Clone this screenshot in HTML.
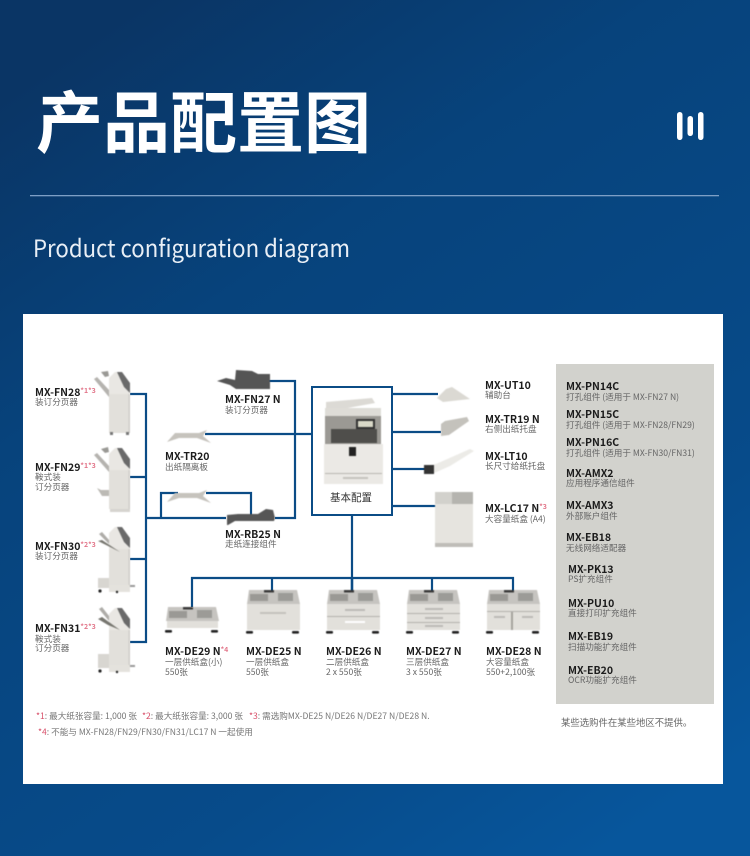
<!DOCTYPE html>
<html><head><meta charset="utf-8">
<style>
html,body{margin:0;padding:0;width:750px;height:856px;overflow:hidden;background:#0a4478}
svg{display:block}
text{font-family:"Liberation Sans","Noto Sans CJK SC",sans-serif}
.m{font-family:"Noto Sans CJK SC","Liberation Sans",sans-serif;font-weight:700;font-size:10.5px;fill:#1c1c1c}
.s{font-family:"Noto Sans CJK SC","Liberation Sans",sans-serif;font-size:8.6px;fill:#666}
.r{font-family:"Noto Sans CJK SC","Liberation Sans",sans-serif;font-size:7px;fill:#e2768a}
.f{font-family:"Noto Sans CJK SC","Liberation Sans",sans-serif;font-size:8.6px;fill:#777}
.l{fill:none;stroke:#0b4c86;stroke-width:2.2}
.soft{filter:blur(.5px)}
</style></head><body>
<svg width="750" height="856" viewBox="0 0 750 856" xmlns="http://www.w3.org/2000/svg">
<defs>
<linearGradient id="bg" x1="0.2" y1="0" x2="0.8" y2="1">
<stop offset="0" stop-color="#0a3565"/><stop offset="0.3" stop-color="#07437c"/><stop offset="0.75" stop-color="#074b8a"/><stop offset="1" stop-color="#07569c"/>
</linearGradient>
<g id="tower">
<polygon points="0,6 6,0 11,0 21,14 21,61 0,61" fill="#e9e7e3"/>
<polygon points="8,0 13,0 21,11 21,21 15,15" fill="#6a6a6a"/>
<rect x="0" y="22" width="21" height="39" fill="#e2e0db"/>
<rect x="19.5" y="22" width="1.5" height="39" fill="#cfcdc8"/>
</g>
<g id="deck">
<polygon points="2,0 50,0 53,14 0,14" fill="#c6c4c0"/>
<rect x="3" y="4" width="18" height="7" fill="#9a9995"/>
<rect x="31" y="3" width="15" height="8" fill="#9c9b97"/>
<rect x="17" y="0" width="10" height="2.5" fill="#3b3b3b"/>
</g>
<g id="feet"><rect x="0" y="0" width="7" height="2.6" rx="1" fill="#222"/><rect x="46" y="0" width="7" height="2.6" rx="1" fill="#222"/></g>
<polygon id="tray" points="0,12 8,3 32,3 40,0 36,6 44,13 30,8 12,8" fill="#c6c3bd"/>
</defs>
<rect width="750" height="856" fill="url(#bg)"/>

<text x="36" y="147" style="font-family:'Noto Sans CJK SC',sans-serif;font-weight:700;font-size:67px" fill="#fff">产品配置图</text>
<rect x="677" y="112" width="5.5" height="28" rx="2.7" fill="#fff"/>
<rect x="687.500" y="116" width="5.500" height="20" rx="2.700" fill="#fff"/>
<rect x="698" y="112" width="5.500" height="28" rx="2.700" fill="#fff"/>
<rect x="30" y="195" width="689" height="1.3" fill="#7d9fc6"/>
<text x="33" y="257" textLength="317" lengthAdjust="spacingAndGlyphs" style="font-family:'Noto Sans CJK SC',sans-serif;font-weight:400;font-size:24px" fill="#e9eff6">Product configuration diagram</text>

<rect x="23" y="314" width="700" height="470" fill="#fff"/>
<rect x="556" y="364" width="158" height="340" fill="#d2d2cd"/>

<!-- connectors -->
<path class="l" d="M130 394H146V642H130M130 477H146M130 559H146M146 518H226M275 518H295V381H268M205 434H312M161 518V493H178M206 493H251V516"/>
<rect x="312" y="387" width="80" height="128" fill="#fff" stroke="#0b4c86" stroke-width="2"/>
<path class="l" d="M392 394H438M392 432H441M392 469H425M392 506H436M352 515V578M192 607V578H513V592M272 578V592M432 578V592"/>
<path d="M352 578V592" fill="none" stroke="#0b4c86" stroke-width="2.6"/>

<g class="soft">
<!-- finishers -->
<use href="#tower" x="109" y="372"/>
<rect x="110" y="432" width="3" height="3" fill="#777"/><rect x="126" y="432" width="3" height="3" fill="#777"/>
<polygon points="94,379 97,377 109,390 109,397" fill="#b5b3af"/><polygon points="101,372 108,371 109,376 105,377" fill="#9a9995"/>
<use href="#tower" x="109" y="448"/>
<rect x="110" y="509" width="20" height="3" fill="#d6d4cf"/>
<polygon points="94,455 97,453 109,466 109,472" fill="#b5b3af"/><polygon points="101,449 108,447 109,452 105,453" fill="#9a9995"/>
<polygon points="97,488 101,490 109,490 109,496 102,496" fill="#bcbab5"/>
<use href="#tower" x="109" y="527"/>
<rect x="109" y="585" width="21" height="7" fill="#e4e2dd"/>
<polygon points="99,534 102,532 109,540 109,544" fill="#aeaca8"/><polygon points="98,541 102,540 120,552 108,546" fill="#77766f"/>
<rect x="98" y="578" width="11" height="10" fill="#d8d6d1"/><circle cx="100" cy="591" r="1.6" fill="#222"/><circle cx="117" cy="592" r="1.2" fill="#222"/><rect x="130" y="585" width="5" height="2" fill="#999"/>
<use href="#tower" x="109" y="608"/>
<rect x="109" y="665" width="21" height="7" fill="#e4e2dd"/>
<polygon points="99,609 102,607 109,616 109,621" fill="#aeaca8"/><polygon points="98,619 102,617 120,630 108,625" fill="#77766f"/>
<rect x="98" y="654" width="11" height="14" fill="#d8d6d1"/><circle cx="100" cy="671" r="1.6" fill="#222"/><circle cx="117" cy="672" r="1.2" fill="#222"/><rect x="130" y="665" width="5" height="2" fill="#999"/>

<!-- FN27 -->
<polygon points="217,381 226,378 235,380 236,370 252,371 258,374 270,374 270,389 236,389 230,385" fill="#555"/>
<!-- TR20 tray + lower tray -->
<use href="#tray" x="167" y="430"/>
<use href="#tray" x="167" y="490"/>
<!-- RB25 -->
<polygon points="227,525 227,515 238,514 258,514 266,509 273,510 275,518 274,521 235,521 228,525" fill="#565656"/>

<!-- base copier -->
<polygon points="326,402 372,398 375,403 342,409 326,408" fill="#dcdad5"/>
<rect x="325" y="408" width="56" height="8" fill="#dedcd7"/>
<rect x="325" y="416" width="56" height="28" fill="#9b9994"/>
<rect x="331" y="429" width="46" height="14" fill="#4f4e4b"/>
<rect x="356" y="419" width="19" height="10" fill="#333"/><rect x="358" y="421" width="15" height="6" fill="#d9d8c8"/>
<rect x="324" y="444" width="59" height="40" fill="#ebe9e5"/>
<rect x="349" y="447" width="7" height="9" fill="#222"/>
<rect x="325" y="473" width="57" height="1" fill="#b9b7b2"/><rect x="343" y="477" width="25" height="2" fill="#c5c3be"/>

<!-- right options -->
<polygon points="437,398 446,389 452,387 470,399 443,402" fill="#dbd9d3"/>
<polygon points="441,424 445,421 467,417 469,421 449,435 441,436" fill="#c4c2bc"/>
<polygon points="424,466 436,464 470,449 474,451 450,466 432,474 424,473" fill="#ecebe7"/>
<rect x="424" y="465" width="10" height="9" fill="#333"/>
<rect x="435" y="492" width="38" height="55" fill="#e6e4df"/>
<rect x="452" y="492" width="21" height="12" fill="#b5b4af"/><rect x="435" y="492" width="17" height="12" fill="#d2d1cc"/>
<rect x="435" y="543" width="38" height="4" fill="#bfbdb8"/>

<!-- paper decks -->
<use href="#deck" x="166" y="607"/><rect x="167" y="621" width="51" height="7" fill="#e2e0db"/><use href="#feet" x="165" y="630"/>
<use href="#deck" x="247" y="590"/><rect x="247" y="604" width="53" height="26" fill="#e2e0db"/><rect x="260" y="612" width="26" height="2" fill="#c4c2bd"/><use href="#feet" x="246" y="631"/>
<use href="#deck" x="327" y="590"/><rect x="327" y="604" width="53" height="26" fill="#e2e0db"/><rect x="327" y="616" width="53" height="1" fill="#b3b1ac"/><rect x="345" y="609" width="20" height="2" fill="#bdbbb6"/><rect x="345" y="621" width="20" height="2" fill="#fff"/><use href="#feet" x="326" y="631"/>
<use href="#deck" x="407" y="590"/><rect x="407" y="604" width="53" height="26" fill="#e2e0db"/><rect x="407" y="613" width="53" height="1" fill="#b3b1ac"/><rect x="407" y="622" width="53" height="1" fill="#b3b1ac"/><rect x="425" y="608" width="18" height="2" fill="#bdbbb6"/><rect x="425" y="617" width="18" height="2" fill="#bdbbb6"/><rect x="425" y="625" width="18" height="2" fill="#bdbbb6"/><use href="#feet" x="406" y="631"/>
<use href="#deck" x="487" y="590"/><rect x="487" y="604" width="53" height="26" fill="#e2e0db"/><rect x="487" y="611" width="53" height="1" fill="#b3b1ac"/><rect x="511" y="612" width="2" height="18" fill="#a5a39e"/><rect x="494" y="616" width="11" height="2" fill="#bdbbb6"/><rect x="522" y="616" width="11" height="2" fill="#bdbbb6"/><use href="#feet" x="486" y="631"/>
</g>

<text x="351" y="501" text-anchor="middle" style="font-family:'Noto Sans CJK SC',sans-serif;font-size:10.5px" fill="#333">基本配置</text>

<!-- labels left -->
<text class="m" x="35" y="396">MX-FN28<tspan class="r" dy="-3">*1*3</tspan></text><text class="s" x="35" y="405">装订分页器</text>
<text class="m" x="35" y="471">MX-FN29<tspan class="r" dy="-3">*1*3</tspan></text><text class="s" x="35" y="480">鞍式装</text><text class="s" x="35" y="490">订分页器</text>
<text class="m" x="35" y="550">MX-FN30<tspan class="r" dy="-3">*2*3</tspan></text><text class="s" x="35" y="559">装订分页器</text>
<text class="m" x="35" y="632">MX-FN31<tspan class="r" dy="-3">*2*3</tspan></text><text class="s" x="35" y="642">鞍式装</text><text class="s" x="35" y="651">订分页器</text>

<text class="m" x="225" y="403">MX-FN27 N</text><text class="s" x="225" y="413">装订分页器</text>
<text class="m" x="165" y="460">MX-TR20</text><text class="s" x="165" y="470">出纸隔离板</text>
<text class="m" x="225" y="538">MX-RB25 N</text><text class="s" x="225" y="547">走纸连接组件</text>

<!-- labels mid right -->
<text class="m" x="485" y="389">MX-UT10</text><text class="s" x="485" y="398">辅助台</text>
<text class="m" x="485" y="423">MX-TR19 N</text><text class="s" x="485" y="432">右侧出纸托盘</text>
<text class="m" x="485" y="460">MX-LT10</text><text class="s" x="485" y="469">长尺寸给纸托盘</text>
<text class="m" x="485" y="512">MX-LC17 N<tspan class="r" dy="-3">*3</tspan></text><text class="s" x="485" y="522">大容量纸盒 (A4)</text>

<!-- deck labels -->
<text class="m" x="165" y="655">MX-DE29 N<tspan class="r" dy="-3">*4</tspan></text><text class="s" x="165" y="665">一层供纸盒(小)</text><text class="s" x="165" y="675">550张</text>
<text class="m" x="246" y="655">MX-DE25 N</text><text class="s" x="246" y="665">一层供纸盒</text><text class="s" x="246" y="675">550张</text>
<text class="m" x="326" y="655">MX-DE26 N</text><text class="s" x="326" y="665">二层供纸盒</text><text class="s" x="326" y="675">2 x 550张</text>
<text class="m" x="406" y="655">MX-DE27 N</text><text class="s" x="406" y="665">三层供纸盒</text><text class="s" x="406" y="675">3 x 550张</text>
<text class="m" x="486" y="655">MX-DE28 N</text><text class="s" x="486" y="665">大容量纸盒</text><text class="s" x="486" y="675">550+2,100张</text>

<!-- footnotes -->
<text class="f" x="36" y="719"><tspan fill="#d8506a">*1</tspan>: 最大纸张容量: 1,000 张</text>
<text class="f" x="142" y="719"><tspan fill="#d8506a">*2</tspan>: 最大纸张容量: 3,000 张</text>
<text class="f" x="249" y="719"><tspan fill="#d8506a">*3</tspan>: 需选购MX-DE25 N/DE26 N/DE27 N/DE28 N.</text>
<text class="f" x="38" y="735"><tspan fill="#d8506a">*4</tspan>: 不能与 MX-FN28/FN29/FN30/FN31/LC17 N 一起使用</text>

<!-- gray panel -->
<text class="m" x="566" y="390">MX-PN14C</text><text class="s" x="566" y="400">打孔组件 (适用于 MX-FN27 N)</text>
<text class="m" x="566" y="418">MX-PN15C</text><text class="s" x="566" y="428">打孔组件 (适用于 MX-FN28/FN29)</text>
<text class="m" x="566" y="446">MX-PN16C</text><text class="s" x="566" y="456">打孔组件 (适用于 MX-FN30/FN31)</text>
<text class="m" x="566" y="477">MX-AMX2</text><text class="s" x="566" y="486">应用程序通信组件</text>
<text class="m" x="566" y="509">MX-AMX3</text><text class="s" x="566" y="519">外部账户组件</text>
<text class="m" x="566" y="541">MX-EB18</text><text class="s" x="566" y="551">无线网络适配器</text>
<text class="m" x="568" y="573">MX-PK13</text><text class="s" x="568" y="582">PS扩充组件</text>
<text class="m" x="568" y="607">MX-PU10</text><text class="s" x="568" y="616">直接打印扩充组件</text>
<text class="m" x="568" y="640">MX-EB19</text><text class="s" x="568" y="650">扫描功能扩充组件</text>
<text class="m" x="568" y="674">MX-EB20</text><text class="s" x="568" y="683">OCR功能扩充组件</text>
<text class="s" x="561" y="726" style="font-size:9.4px">某些选购件在某些地区不提供。</text>
</svg>
</body></html>
